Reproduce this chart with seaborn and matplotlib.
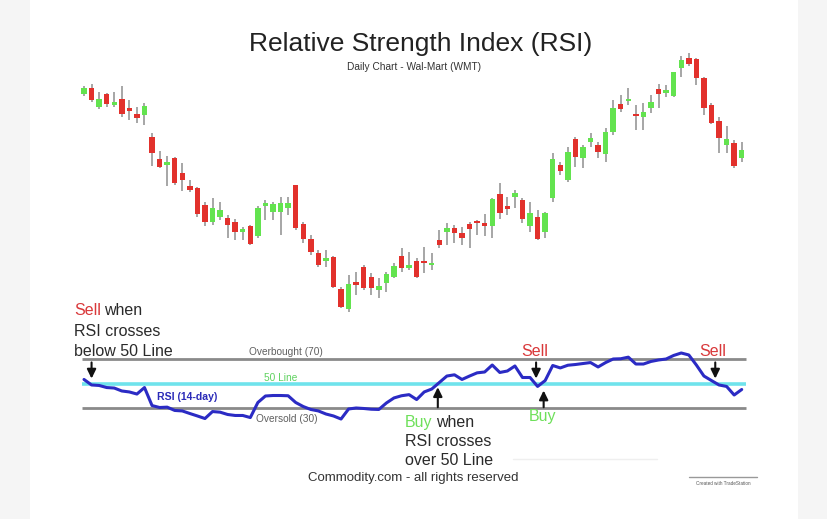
import numpy as np
import pandas as pd
import matplotlib
matplotlib.use("Agg")
import matplotlib.pyplot as plt
from matplotlib.patches import Rectangle
import seaborn as sns

# ---------------- data (price levels, arbitrary units) ----------------
opens = [236, 242, 223, 236, 225, 231, 222, 216, 215, 193, 171, 165, 172, 157, 144, 142, 125, 108, 113, 112,
         108, 98, 104, 94, 124, 118, 118, 122, 145, 106, 91, 77, 69, 73, 41, 21, 48, 63, 53, 40,
         47, 53, 74, 62, 69, 69, 65, 90, 98, 102, 97, 106, 109, 107, 104, 136, 124, 133, 130, 104,
         113, 98, 132, 165, 150, 191, 172, 188, 185, 176, 198, 226, 229, 215, 213, 222, 241, 237, 234, 262,
         272, 271, 252, 225, 209, 185, 187, 172]
highs = [244, 246, 238, 237, 238, 244, 230, 223, 227, 197, 179, 174, 173, 167, 150, 143, 128, 132, 128, 115,
         111, 103, 105, 124, 130, 128, 133, 133, 145, 108, 95, 80, 80, 74, 43, 55, 58, 65, 57, 52,
         58, 67, 82, 78, 72, 83, 77, 100, 107, 105, 103, 108, 110, 116, 132, 147, 133, 140, 132, 128,
         120, 118, 177, 168, 183, 193, 185, 197, 188, 202, 230, 235, 242, 225, 227, 235, 246, 245, 258, 274,
         277, 272, 253, 227, 213, 204, 190, 188]
lows = [234, 228, 221, 223, 223, 213, 210, 207, 205, 164, 162, 144, 145, 139, 138, 113, 104, 105, 110, 92,
        90, 90, 85, 92, 110, 110, 95, 115, 100, 87, 75, 63, 63, 42, 22, 18, 35, 40, 35, 32,
        38, 52, 58, 60, 52, 57, 60, 82, 85, 87, 85, 82, 95, 94, 92, 111, 115, 122, 107, 98,
        90, 92, 128, 155, 148, 163, 162, 183, 172, 168, 195, 218, 225, 200, 200, 217, 222, 233, 233, 253,
        264, 245, 215, 206, 177, 177, 162, 168]
closes = [242, 230, 231, 226, 228, 216, 219, 212, 224, 177, 163, 168, 147, 150, 140, 116, 108, 122, 120, 105,
          98, 101, 86, 122, 127, 126, 127, 127, 102, 91, 78, 65, 72, 43, 23, 46, 45, 42, 42, 44,
          56, 64, 62, 65, 53, 67, 67, 85, 102, 97, 92, 101, 107, 104, 131, 117, 121, 137, 111, 117,
          91, 117, 171, 159, 178, 173, 183, 192, 178, 198, 222, 221, 231, 214, 218, 228, 236, 240, 258, 270,
          266, 252, 222, 207, 192, 191, 164, 180]

rsi = [53.3, 48.8, 48.4, 46.7, 46.3, 43.9, 43.1, 41.4, 46.7, 32.0, 30.4, 30.7, 28.0, 27.6, 25.5, 23.5, 21.4, 27.1, 26.6, 24.7,
       23.9, 23.9, 22.2, 34.5, 39.8, 40.2, 40.2, 40.0, 34.5, 31.2, 28.8, 27.6, 25.1, 23.5, 21.0, 29.2, 30.0, 29.6, 29.0, 28.8,
       34.1, 38.2, 40.0, 40.9, 36.9, 43.1, 45.5, 50.8, 56.1, 57.1, 53.3, 56.1, 58.7, 59.4, 65.1, 59.0, 60.2, 64.3, 54.9, 54.9,
       47.6, 52.4, 64.7, 62.7, 64.9, 65.5, 66.3, 67.1, 63.5, 67.1, 70.0, 70.2, 71.5, 65.9, 65.9, 68.0, 69.2, 70.0, 72.9, 74.9,
       73.3, 65.1, 56.1, 52.4, 48.8, 47.6, 40.6, 45.1]

overbought = 70
midline = 50
oversold = 30

# signal arrows (day positions)
sell_days = [1.0, 59.8, 83.5]
buy_days = [46.8, 60.8]

# ---------------- styling ----------------
sns.set_theme(style="white")
plt.rcParams['font.family'] = ['Liberation Sans', 'DejaVu Sans']

W, H = 828, 519
fig = plt.figure(figsize=(W / 100, H / 100), dpi=100, facecolor="#f5f5f5")
fig.patches.append(Rectangle((30 / W, 0), 768 / W, 1, transform=fig.transFigure,
                             facecolor="white", edgecolor="none", zorder=-10))


def px(x, y):
    return x / W, 1 - y / H


def add_axes(x0, y0, x1, y1):
    ax = fig.add_axes([x0 / W, 1 - y1 / H, (x1 - x0) / W, (y1 - y0) / H])
    ax.set_facecolor("none")
    ax.set_zorder(2)
    return ax


step = 7.56
first_x = 84
ax_l, ax_r = 70, 756
xlim = ((ax_l - first_x) / step, (ax_r - first_x) / step)

# price panel: value v drawn at pixel y = 330 - v
ax1 = add_axes(ax_l, 40, ax_r, 320)

df = pd.DataFrame({"open": opens, "high": highs, "low": lows, "close": closes})
df["day"] = np.arange(len(df))
up = df["close"] >= df["open"]
green, red = "#63e34f", "#e2312c"
ax1.vlines(df["day"], df["low"], df["high"], color="#a6a6a6", lw=1.4, zorder=1)
body_lo = np.minimum(df["open"], df["close"])
body_h = np.maximum(np.abs(df["close"] - df["open"]), 2.0)
ax1.bar(df["day"], body_h, bottom=body_lo, width=0.72,
        color=[green if u else red for u in up], edgecolor="none", zorder=2)
ax1.set_xlim(*xlim)
ax1.set_ylim(10, 290)
ax1.set_axis_off()

# RSI panel: 70 -> y 359px, 30 -> y 408px
scale = 1.225
top_px, bot_px = 340, 432
ax2 = add_axes(ax_l, top_px, ax_r, bot_px)

x_start, x_end = (82 - first_x) / step, (746 - first_x) / step
ax2.hlines([overbought, oversold], x_start, x_end, color="#8a8a8a", lw=2.0, zorder=1)
ax2.hlines([midline], x_start, x_end, color="#6fe3ec", lw=2.6, zorder=1)

rsi_df = pd.DataFrame({"day": np.arange(len(rsi)), "rsi": rsi})
sns.lineplot(data=rsi_df, x="day", y="rsi", ax=ax2, color="#2b2bc4", linewidth=2.2, zorder=3)

arrow_kw = dict(arrowstyle="-|>,head_length=0.45,head_width=0.22", color="#111111", lw=1.5,
                shrinkA=0, shrinkB=0)
for d in sell_days:
    ax2.annotate("", xy=(d, 54.0), xytext=(d, 67.2), arrowprops=arrow_kw, zorder=4)
for d in buy_days:
    tip = 47.0 if d < 50 else 44.3
    ax2.annotate("", xy=(d, tip), xytext=(d, 30.6), arrowprops=arrow_kw, zorder=4)
ax2.set_xlim(*xlim)
ax2.set_ylim(30 - (bot_px - 408) / scale, 70 + (359 - top_px) / scale)
ax2.set_axis_off()

# ---------------- texts ----------------
VA = "center_baseline"
fig.text(*px(421, 42), "Relative Strength Index (RSI)", ha="center", va=VA,
         fontsize=19, color="#222222")
fig.text(*px(414, 66), "Daily Chart - Wal-Mart (WMT)", ha="center", va=VA,
         fontsize=7.3, color="#333333")

red_txt, green_txt, dark = "#d9383a", "#6ee05a", "#2a2a2a"
fs = 11.5


def two_color(x, y, first, c1, rest, c2):
    t = fig.text(*px(x, y), first, ha="left", va=VA, fontsize=fs, color=c1)
    fig.canvas.draw()
    bb = t.get_window_extent()
    fig.text(bb.x1 / W + 3.5 / W, 1 - y / H, rest, ha="left", va=VA, fontsize=fs, color=c2)


two_color(74, 309, "Sell", red_txt, "when", dark)
fig.text(*px(74, 330), "RSI crosses", ha="left", va=VA, fontsize=fs, color=dark)
fig.text(*px(74, 350), "below 50 Line", ha="left", va=VA, fontsize=fs, color=dark)

two_color(405, 421, "Buy", green_txt, "when", dark)
fig.text(*px(405, 440), "RSI crosses", ha="left", va=VA, fontsize=fs, color=dark)
fig.text(*px(405, 459), "over 50 Line", ha="left", va=VA, fontsize=fs, color=dark)

fig.text(*px(535, 350), "Sell", ha="center", va=VA, fontsize=fs, color=red_txt)
fig.text(*px(713, 350), "Sell", ha="center", va=VA, fontsize=fs, color=red_txt)
fig.text(*px(543, 415), "Buy", ha="center", va=VA, fontsize=fs, color=green_txt)

fig.text(*px(286, 351), "Overbought (70)", ha="center", va=VA, fontsize=7.3, color="#606060")
fig.text(*px(281, 377), "50 Line", ha="center", va=VA, fontsize=7.3, color="#5fd25f")
fig.text(*px(187, 396), "RSI (14-day)", ha="center", va=VA, fontsize=7.6,
         color="#2b2bb8", fontweight="bold")
fig.text(*px(287, 418), "Oversold (30)", ha="center", va=VA, fontsize=7.3, color="#606060")

fig.text(*px(413, 477), "Commodity.com - all rights reserved", ha="center", va=VA,
         fontsize=9.5, color="#333333")

fig.add_artist(plt.Line2D([513 / W, 657 / W], [1 - 459 / H] * 2, color="#efefef", lw=1,
                          transform=fig.transFigure))
fig.add_artist(plt.Line2D([689 / W, 757 / W], [1 - 477 / H] * 2, color="#999999", lw=1,
                          transform=fig.transFigure))
fig.text(*px(723, 483), "Created with TradeStation", ha="center", va=VA,
         fontsize=3.3, color="#555555")

fig.savefig("out.png", dpi=100, facecolor=fig.get_facecolor())
